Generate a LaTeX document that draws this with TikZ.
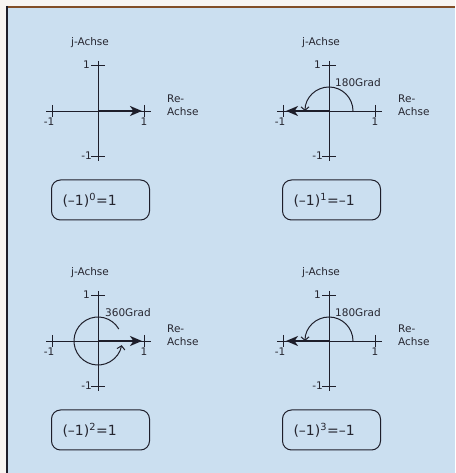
\documentclass[tikz,border=0pt]{standalone}
\usepackage{fontspec}
\setmainfont{DejaVu Sans}
\usetikzlibrary{arrows.meta}
\definecolor{bgblue}{RGB}{203,223,240}
\definecolor{ink}{RGB}{30,30,42}
\definecolor{txt}{RGB}{38,38,48}
\definecolor{topline}{RGB}{130,78,38}
\definecolor{paper}{RGB}{248,245,242}
\tikzset{
  axisline/.style={draw=ink, line width=0.9pt},
  tickline/.style={draw=ink, line width=0.9pt},
  vec/.style={draw=ink, line width=2pt, -{Stealth[length=12pt,width=10pt,inset=3.5pt]}},
  turn/.style={draw=ink, line width=1pt, -{Straight Barb[length=3.5pt,width=8pt]}},
  lbl/.style={font=\fontsize{10.5}{13}\selectfont, text=txt, inner sep=0pt},
  resbox/.style={draw=ink, line width=1pt, rounded corners=9pt, text width=76pt,
    inner xsep=11pt, inner ysep=0pt, minimum height=40pt, align=left, text=txt,
    font=\fontsize{14}{16}\selectfont}
}
\newcommand\axisset[2]{%
  \coordinate (o#1) at (0,0);
  \draw[axisline] (-52,0) -- (53,0);
  \draw[axisline] (0,50) -- (0,-50);
  \draw[tickline] (-46,6) -- (-46,-6);
  \draw[tickline] (46,6) -- (46,-6);
  \draw[tickline] (-7,46) -- (7,46);
  \draw[tickline] (-7,-45) -- (7,-45);
  \node[lbl, anchor=north east] (ml#1) at (-43.5,-7) {-1};
  \node[lbl, anchor=north] (pl#1) at (46,-7) {1};
  \node[lbl, anchor=east] (pu#1) at (-8,46) {1};
  \node[lbl, anchor=east] (mu#1) at (-6,-45) {-1};
  \node[lbl, align=left, anchor=west] (re#1) at (69,5.5) {Re-\\Achse};
  \node[lbl] (im#1) at (-8,68) {j-Achse};
  \node[resbox] (box#1) at (2.5,-89) {#2};
}
\begin{document}
\begin{tikzpicture}[x=1pt,y=1pt]
  \useasboundingbox (0,0) rectangle (455,473);
  \fill[paper] (0,0) rectangle (455,473);
  \fill[bgblue] (7,0) rectangle (455,466);
  \draw[topline, line width=2pt] (6,466) -- (455,466);
  \draw[ink, line width=2pt] (7,467) -- (7,0);

  % panel 1
  \begin{scope}[shift={(98,362)}]
    \axisset{a}{(–1)\textsuperscript{0}=1}
    \coordinate (ta) at (44,0);
    \draw[vec] (oa) -- (ta);
  \end{scope}

  % panel 2
  \begin{scope}[shift={(329,362)}]
    \axisset{b}{(–1)\textsuperscript{1}=–1}
    \coordinate (tb) at (-43,0);
    \draw[vec] (ob) -- (tb);
    \draw[turn] (24,0) arc[start angle=0, end angle=180, radius=24];
    \node[lbl, anchor=west] (gb) at (6,28) {180Grad};
  \end{scope}

  % panel 3
  \begin{scope}[shift={(98,132)}]
    \axisset{c}{(–1)\textsuperscript{2}=1}
    \coordinate (tc) at (44,0);
    \draw[vec] (oc) -- (tc);
    \draw[turn] (30:24) arc[start angle=30, end angle=350, radius=24];
    \node[lbl, anchor=west] (gc) at (7,28) {360Grad};
  \end{scope}

  % panel 4
  \begin{scope}[shift={(329,132)}]
    \axisset{d}{(–1)\textsuperscript{3}=–1}
    \coordinate (td) at (-43,0);
    \draw[vec] (od) -- (td);
    \draw[turn] (24,0) arc[start angle=0, end angle=180, radius=24];
    \node[lbl, anchor=west] (gd) at (6,28) {180Grad};
  \end{scope}
\end{tikzpicture}
\end{document}
